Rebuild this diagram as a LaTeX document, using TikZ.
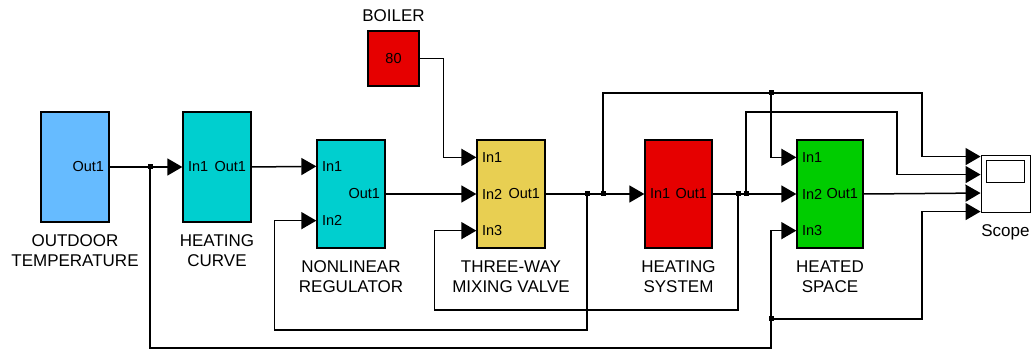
\documentclass[tikz,border=0pt]{standalone}
\usepackage{fontspec}
\setmainfont{Liberation Sans}
\usepackage{tikz}
\usepackage{xcolor}
\usetikzlibrary{arrows.meta,positioning,calc}
\definecolor{sky}{HTML}{66BBFF}
\definecolor{aqua}{HTML}{00CFCF}
\definecolor{sand}{HTML}{E8CF52}
\definecolor{hot}{HTML}{E60000}
\definecolor{leaf}{HTML}{00CC00}
\tikzset{
  block/.style={draw=black, line width=1.3pt, inner sep=0pt,
                minimum width=68pt, minimum height=108pt},
  portlbl/.style={font=\fontsize{14.5}{14.5}\selectfont, inner sep=5.5pt},
  caption/.style={font=\fontsize{17}{20}\selectfont, align=center, inner sep=0pt},
  wire/.style={line width=1.5pt, draw=black},
  junction/.style={fill=black, minimum size=5pt, inner sep=0pt}
}
\begin{document}
\begin{tikzpicture}[x=1pt,y=-1pt,>={Triangle[length=15pt,width=17pt]}]
    \useasboundingbox (0,0) rectangle (1031,352);

    \node[block,fill=sky,minimum height=110pt] (outdoor) at (75,167) {};
    \node[block,fill=aqua,minimum height=110pt] (curve) at (217,167) {};
    \node[block,fill=aqua] (reg) at (351,194) {};
    \node[block,fill=hot,minimum width=51pt,minimum height=55pt,font=\fontsize{14.5}{14.5}\selectfont] (boiler) at (393.5,58.5) {80};
    \node[block,fill=sand] (valve) at (511,194) {};
    \node[block,fill=hot,minimum width=67pt] (system) at (678.5,194) {};
    \node[block,fill=leaf,minimum width=66pt] (space) at (830,194) {};
    \node[draw=black,fill=white,line width=0.9pt,minimum width=49pt,minimum height=57pt,inner sep=0pt] (scope) at (1005.5,183.5) {};
    \draw[line width=0.9pt] ($(scope.north west)+(6,6)$) rectangle ($(scope.north east)+(-6,28)$);

    \node[caption,below=12pt of outdoor] (outdoor-cap) {OUTDOOR\\TEMPERATURE};
    \node[caption,below=12pt of curve] (curve-cap) {HEATING\\CURVE};
    \node[caption,below=12pt of reg] (reg-cap) {NONLINEAR\\REGULATOR};
    \node[caption,above=8pt of boiler] (boiler-cap) {BOILER};
    \node[caption,below=12pt of valve] (valve-cap) {THREE-WAY\\MIXING VALVE};
    \node[caption,below=12pt of system] (system-cap) {HEATING\\SYSTEM};
    \node[caption,below=12pt of space] (space-cap) {HEATED\\SPACE};
    \node[caption,below=12pt of scope] (scope-cap) {Scope};

    % ports
    \coordinate (reg-in1) at ($(reg.north west)+(0,27)$);
    \coordinate (reg-in2) at ($(reg.south west)+(0,-28)$);
    \foreach \b in {valve,space} {
      \coordinate (\b-in1) at ($(\b.north west)+(0,18)$);
      \coordinate (\b-in2) at (\b.west);
      \coordinate (\b-in3) at ($(\b.south west)+(0,-18)$);
    }
    \foreach \i/\dy in {1/2,2/20,3/38.5,4/57} {
      \coordinate (scope-in\i) at ($(scope.north west)+(0,\dy)$);
    }

    \node[portlbl,anchor=east] (outdoor-o1) at (outdoor.east) {Out1};
    \foreach \b in {curve,system} {
      \node[portlbl,anchor=west] (\b-i1) at (\b.west) {In1};
      \node[portlbl,anchor=east] (\b-o1) at (\b.east) {Out1};
    }
    \node[portlbl,anchor=west] (reg-i1) at (reg-in1) {In1};
    \node[portlbl,anchor=west] (reg-i2) at (reg-in2) {In2};
    \node[portlbl,anchor=east] (reg-o1) at (reg.east) {Out1};
    \foreach \b in {valve,space} {
      \foreach \i in {1,2,3} {
        \node[portlbl,anchor=west] (\b-i\i) at (\b-in\i) {In\i};
      }
      \node[portlbl,anchor=east] (\b-o1) at (\b.east) {Out1};
    }

    \node[junction] (b1) at (150,167) {};
    \node[junction] (b2) at (587,194) {};
    \node[junction] (b3) at (603,194) {};
    \node[junction] (b4) at (771,93) {};
    \node[junction] (b5) at (738,194) {};
    \node[junction] (b6) at (746,194) {};
    \node[junction] (b7) at (771,319) {};

    \draw[wire,->] (outdoor.east) -- (curve.west);
    \draw[wire,->] (curve.east) -- (reg-in1);
    \draw[wire,->] (reg.east) -- (valve.west);
    \draw[wire,->] (boiler.east) -- ++(24,0) |- (valve-in1);
    \draw[wire,->] (valve.east) -- (system.west);
    \draw[wire,->] (system.east) -- (space.west);
    \draw[wire,->] (space.east) -- (scope-in3);

    \draw[wire,->] (b1.center) -- ++(0,181) -| (b7.center) |- (space-in3);
    \draw[wire,->] (b7.center) -- ++(151,0) |- (scope-in4);
    \draw[wire,->] (b2.center) -- ++(0,136) -| ($(reg-in2)+(-42,0)$) -- (reg-in2);
    \draw[wire,->] (b3.center) |- (b4.center) -- ++(151,0) |- (scope-in1);
    \draw[wire,->] (b4.center) |- (space-in1);
    \draw[wire,->] (b5.center) -- ++(0,116) -| ($(valve-in3)+(-42,0)$) -- (valve-in3);
    \draw[wire,->] (b6.center) -- ++(0,-82) -- ++(151,0) |- (scope-in2);
  \end{tikzpicture}
\end{document}
